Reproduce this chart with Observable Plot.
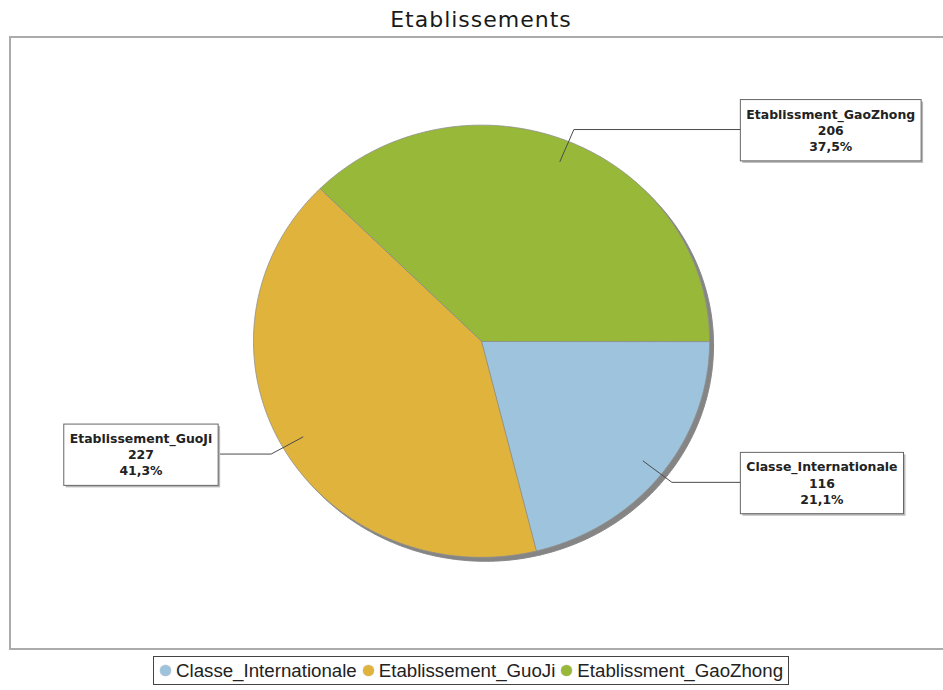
<!DOCTYPE html>
<html>
<head>
<meta charset="utf-8">
<script src="https://cdn.jsdelivr.net/npm/d3@7"></script>
<script src="https://cdn.jsdelivr.net/npm/@observablehq/plot@0.6"></script>
<style>
  html, body { margin: 0; padding: 0; background: #fff; overflow: hidden; width: 943px; height: 690px; }
  #title { position: absolute; top: 7px; left: 481px; transform: translateX(-50%); font: 22px "DejaVu Sans", sans-serif; letter-spacing: 1px; color: #1a1a1a; white-space: nowrap; }
  #frame { position: absolute; left: 9px; top: 36px; width: 960px; height: 614px; border: 2px solid #ababab; box-sizing: border-box; overflow: hidden; background: #fff; }
  #frame svg { position: absolute; left: 0; top: 0; }
  #legend { position: absolute; left: 153px; top: 656px; height: 27px; border: 1px solid #444; display: flex; align-items: center; padding: 0 5px 0 6px; font: 18.7px "Liberation Sans", Arial, sans-serif; color: #222; white-space: nowrap; background: #fff; }
  #legend .sw { display: inline-block; width: 11px; height: 11px; border-radius: 50%; margin-right: 5px; box-shadow: 0 0 0 0.5px rgba(0,0,0,0.15); }
  #legend .it { display: inline-flex; align-items: center; margin-right: 6px; }
  #legend .it:last-child { margin-right: 0; }
</style>
</head>
<body>
<div id="title">Etablissements</div>
<div id="frame"></div>
<div id="legend"></div>
<script>
// ---- data ----
const labels = ["Classe_Internationale", "Etablissement_GuoJi", "Etablissment_GaoZhong"];
const values = [116, 227, 206];
const colors = ["#9ec3dc", "#dfb33c", "#98b83a"];

// ---- geometry ----
const W = 960, H = 610;
const cx = 472, cy = 304, rx = 229, ry = 217;
const total = d3.sum(values);
const fmtPct = v => d3.format(".1f")(v * 100).replace(".", ",") + "%";

const pie = d3.pie().sort(null).value(d => d)
  .startAngle(Math.PI / 2).endAngle(Math.PI / 2 + 2 * Math.PI);
const arcs = pie(values);

const slicePts = [];
arcs.forEach((a, i) => {
  slicePts.push({name: labels[i], x: 0, y: 0});
  const n = Math.max(2, Math.ceil((a.endAngle - a.startAngle) / (Math.PI / 360)));
  for (let k = 0; k <= n; k++) {
    const t = a.startAngle + (a.endAngle - a.startAngle) * k / n;
    slicePts.push({name: labels[i], x: Math.sin(t), y: -Math.cos(t)});
  }
});

const leaderPts = [];
const labelRows = [];
arcs.forEach((a, i) => {
  const m = (a.startAngle + a.endAngle) / 2;
  const sx = Math.sin(m), sy = -Math.cos(m);
  const side = sx >= 0 ? 1 : -1;
  const col = side > 0 ? 1.135 : 1.155;
  leaderPts.push({name: labels[i], x: 0.9 * sx, y: 0.9 * sy});
  leaderPts.push({name: labels[i], x: 1.06 * sx, y: 1.06 * sy});
  leaderPts.push({name: labels[i], x: side * col, y: 1.06 * sy});
  labelRows.push({
    name: labels[i], side, x: side * col, y: 1.06 * sy,
    text: labels[i] + "\n" + values[i] + "\n" + fmtPct(values[i] / total)
  });
});

const plot = Plot.plot({
  width: W, height: H, margin: 0,
  style: {background: "transparent", overflow: "visible"},
  x: {domain: [-1, 1], range: [cx - rx, cx + rx], axis: null},
  y: {domain: [-1, 1], range: [cy - ry, cy + ry], axis: null},
  color: {domain: labels, range: colors},
  marks: [
    Plot.line(slicePts, {x: "x", y: "y", z: "name", fill: "#858585", stroke: "#858585", strokeWidth: 1, curve: "linear-closed", dx: 4, dy: 4}),
    Plot.line(slicePts, {x: "x", y: "y", z: "name", fill: "name", stroke: "#8f8f8f", strokeWidth: 0.8, curve: "linear-closed"}),
    Plot.line(leaderPts, {x: "x", y: "y", z: "name", stroke: "#4a4a4a", strokeWidth: 1}),
    Plot.text(labelRows, {x: "x", y: "y", text: "text", textAnchor: "middle", lineAnchor: "middle", lineHeight: 1.3,
      fontSize: 12.5, fontWeight: "bold", fontFamily: "DejaVu Sans", fill: "#222"})
  ]
});
document.getElementById("frame").appendChild(plot);

// label boxes around the text
const ns = "http://www.w3.org/2000/svg";
const xs = plot.scale("x");
const texts = plot.querySelectorAll('g[aria-label="text"] text');
texts.forEach((t, i) => {
  const row = labelRows[i];
  const g = document.createElementNS(ns, "g");
  t.parentNode.insertBefore(g, t);
  g.appendChild(t);
  const bb = g.getBBox();
  const px = 6, py = 7;
  const colPx = xs.apply(row.x);
  const shift = row.side > 0 ? colPx - (bb.x - px) : colPx - (bb.x + bb.width + px);
  const mk = (dx, dy, fill, stroke) => {
    const r = document.createElementNS(ns, "rect");
    r.setAttribute("x", bb.x - px + dx);
    r.setAttribute("y", bb.y - py + dy);
    r.setAttribute("width", bb.width + 2 * px);
    r.setAttribute("height", bb.height + 2 * py);
    r.setAttribute("fill", fill);
    if (stroke) { r.setAttribute("stroke", stroke); r.setAttribute("stroke-width", 1); }
    g.insertBefore(r, t);
  };
  mk(2, 2, "#b8b8b8", null);
  mk(0, 0, "#fff", "#666");
  g.setAttribute("transform", `translate(${shift},0)`);
});

// legend
const legend = document.getElementById("legend");
labels.forEach((l, i) => {
  const it = document.createElement("span");
  it.className = "it";
  const sw = document.createElement("span");
  sw.className = "sw";
  sw.style.background = colors[i];
  it.appendChild(sw);
  it.appendChild(document.createTextNode(l));
  legend.appendChild(it);
});
</script>
</body>
</html>
